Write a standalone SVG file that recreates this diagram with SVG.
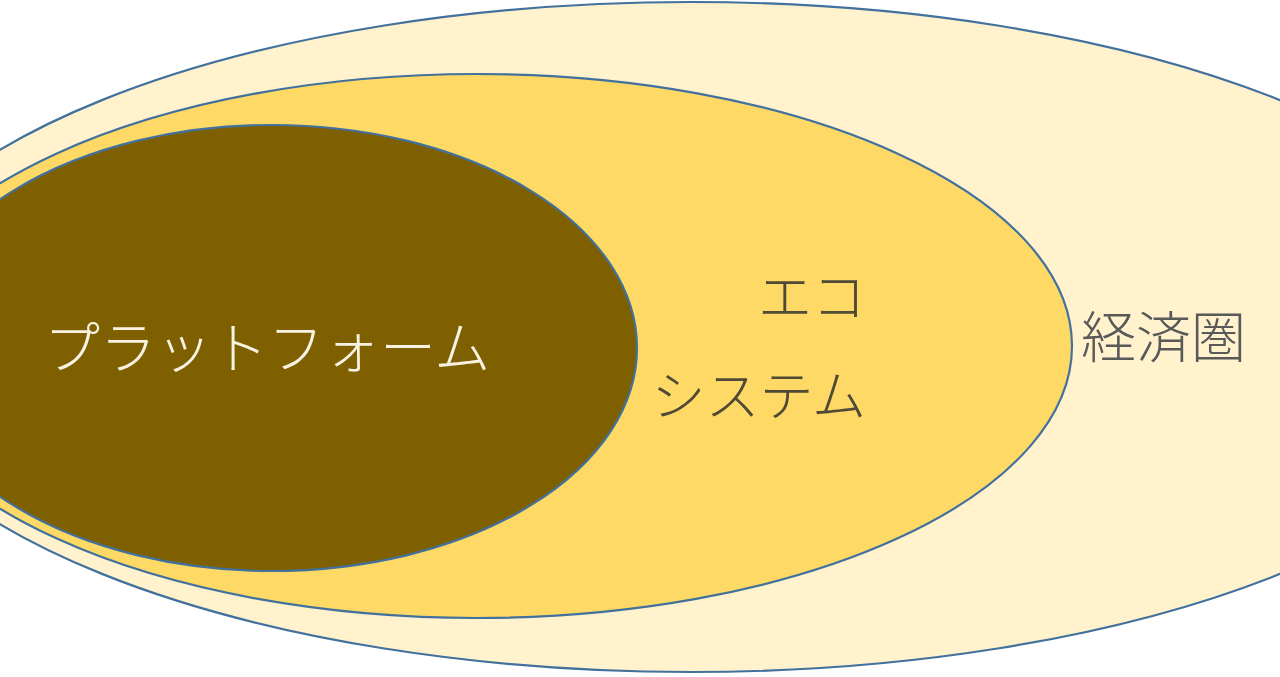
<svg xmlns="http://www.w3.org/2000/svg" width="1280" height="677" viewBox="0 0 1280 677">
<style>
.ring{stroke:#41719C;stroke-width:2.2}
.t{font-family:"Noto Sans CJK JP","Noto Sans CJK SC",sans-serif;font-weight:300}
</style>
<rect width="1280" height="677" fill="#FFFFFF"/>
<g id="keizaiken">
<ellipse class="ring" cx="691" cy="337" rx="833" ry="335" fill="#FFF2CC"/>
<text class="t" x="1246" y="357" font-size="55" fill="#595959" text-anchor="end">経済圏</text>
</g>
<g id="ecosystem">
<ellipse class="ring" cx="477" cy="346" rx="595" ry="272" fill="#FFD966"/>
<text class="t" x="866" y="317" font-size="54" fill="#4F4A35" text-anchor="end">エコ</text>
<text class="t" x="866" y="416" font-size="54" fill="#4F4A35" text-anchor="end">システム</text>
</g>
<g id="platform">
<ellipse class="ring" cx="272" cy="348" rx="365" ry="223" fill="#7F6000"/>
<text class="t" x="44" y="368" font-size="56" fill="#F7F2E2">プラットフォーム</text>
</g>
<g id="connectors"/>
</svg>
